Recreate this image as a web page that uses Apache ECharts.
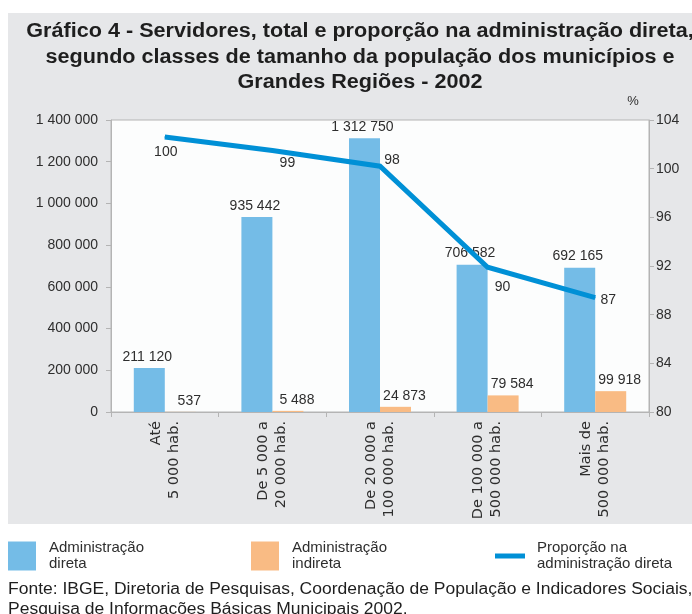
<!DOCTYPE html>
<html>
<head>
<meta charset="utf-8">
<script src="https://cdn.jsdelivr.net/npm/echarts@6/dist/echarts.min.js"></script>
<style>
  html, body { margin: 0; padding: 0; background: #ffffff; }
  #panel { position: absolute; left: 8px; top: 13px; width: 684px; height: 511px; background: #e6e7e9; }
  #chart { position: absolute; left: 0; top: 0; width: 692px; height: 614px; }
</style>
</head>
<body>
<div id="panel"></div>
<div id="chart"></div>
<script>
const categories = ['Até\n5 000 hab.', 'De 5 000 a\n20 000 hab.', 'De 20 000 a\n100 000 hab.', 'De 100 000 a\n500 000 hab.', 'Mais de\n500 000 hab.'];
const adminDireta = [211120, 935442, 1312750, 706582, 692165];
const adminIndireta = [537, 5488, 24873, 79584, 99918];
// line positions as drawn against the right axis, and the printed label values
const proporcaoPlotted = [102.6, 101.5, 100.2, 91.9, 89.4];
const proporcaoLabels = [100, 99, 98, 90, 87];
const leftTicks = { min: 0, max: 1400000, interval: 200000 };
const rightTicks = { min: 80, max: 104, interval: 4 };

const titleText = 'Gráfico 4 - Servidores, total e proporção na administração direta,\nsegundo classes de tamanho da população dos municípios e\nGrandes Regiões - 2002';
const sourceText = 'Fonte: IBGE, Diretoria de Pesquisas, Coordenação de População e Indicadores Sociais,\nPesquisa de Informações Básicas Municipais 2002.';
const seriesNames = ['Administração\ndireta', 'Administração\nindireta', 'Proporção na\nadministração direta'];

// styling: label nudges (pixels)
const lineLabelOffsets = [[1, 15], [15, 13], [12, -6], [15, 20], [13, 3]];

function fmt(n) { return String(n).replace(/\B(?=(\d{3})+(?!\d))/g, ' '); }

const C_BLUE = '#74bce7', C_ORANGE = '#f9bb84', C_LINE = '#0090d6', C_TEXT = '#2e2e2e', C_AXIS = '#b4b4b4';
const FONT = '"Liberation Sans", Arial, sans-serif';

const chart = echarts.init(document.getElementById('chart'), null, { renderer: 'canvas' });

function legendText(padLeft) {
  return { color: C_TEXT, fontSize: 15, fontFamily: FONT, lineHeight: 15.5, padding: [0, 0, 0, padLeft] };
}

chart.setOption({
  backgroundColor: 'transparent',
  animation: false,
  graphic: [
    { type: 'text', x: 360, y: 19, scaleX: 1.08, style: { text: titleText, font: 'bold 20px ' + FONT, fill: '#1e1e1e', textAlign: 'center', textVerticalAlign: 'top', lineHeight: 25.5 } },
    { type: 'text', x: 633, y: 101, style: { text: '%', font: '13px ' + FONT, fill: C_TEXT, textAlign: 'center', textVerticalAlign: 'middle' } },
    { type: 'text', x: 8, y: 580, scaleX: 1.093, style: { text: sourceText, font: '16px ' + FONT, fill: '#1e1e1e', textAlign: 'left', textVerticalAlign: 'top', lineHeight: 20 } }
  ],
  grid: { left: 111, right: 43, top: 120, bottom: 202, show: true, backgroundColor: '#fcfdfd', borderColor: C_AXIS, borderWidth: 1 },
  legend: [
    { left: 8, top: 540.5, padding: 0, itemGap: 0, selectedMode: false, itemWidth: 28, itemHeight: 29, data: [{ name: seriesNames[0], icon: 'rect' }], textStyle: legendText(8) },
    { left: 251, top: 540.5, padding: 0, itemGap: 0, selectedMode: false, itemWidth: 28, itemHeight: 29, data: [{ name: seriesNames[1], icon: 'rect' }], textStyle: legendText(8) },
    { left: 495, top: 540.5, padding: 0, itemGap: 0, selectedMode: false, itemWidth: 30, itemHeight: 5, data: [{ name: seriesNames[2], icon: 'rect' }], textStyle: legendText(7) }
  ],
  xAxis: {
    type: 'category',
    data: categories,
    axisLine: { lineStyle: { color: C_AXIS, width: 1 } },
    axisTick: { show: true, length: 5, inside: false, lineStyle: { color: C_AXIS } },
    axisLabel: { rotate: 90, margin: 9, padding: [10, 0, 0, 0], color: C_TEXT, fontSize: 14.5, fontFamily: '"DejaVu Sans", sans-serif', lineHeight: 18, interval: 0 }
  },
  yAxis: [
    {
      type: 'value', min: leftTicks.min, max: leftTicks.max, interval: leftTicks.interval, position: 'left',
      axisLine: { show: true, lineStyle: { color: C_AXIS } },
      axisTick: { show: true, length: 5, lineStyle: { color: C_AXIS } },
      splitLine: { show: false },
      axisLabel: { margin: 13, color: C_TEXT, fontSize: 14, fontFamily: FONT, formatter: v => fmt(v) }
    },
    {
      type: 'value', min: rightTicks.min, max: rightTicks.max, interval: rightTicks.interval, position: 'right',
      axisLine: { show: true, lineStyle: { color: C_AXIS } },
      axisTick: { show: true, length: 5, lineStyle: { color: C_AXIS } },
      splitLine: { show: false },
      axisLabel: { margin: 7, color: C_TEXT, fontSize: 14, fontFamily: FONT }
    }
  ],
  series: [
    {
      name: seriesNames[0], type: 'bar', data: adminDireta, barWidth: 31, barGap: '0%',
      itemStyle: { color: C_BLUE },
      label: { show: true, position: 'top', distance: 4, offset: [-2, 0], color: C_TEXT, fontSize: 14, fontFamily: FONT, formatter: p => fmt(p.value) }
    },
    {
      name: seriesNames[1], type: 'bar', data: adminIndireta, barWidth: 31, barGap: '0%',
      itemStyle: { color: C_ORANGE },
      label: { show: true, position: 'top', distance: 4, offset: [9, 0], color: C_TEXT, fontSize: 14, fontFamily: FONT, formatter: p => fmt(p.value) }
    },
    {
      name: seriesNames[2], type: 'line', yAxisIndex: 1,
      data: proporcaoPlotted.map((v, i) => ({ value: v, label: { offset: lineLabelOffsets[i] } })),
      symbol: 'circle', symbolSize: 1, showSymbol: true,
      itemStyle: { color: C_LINE },
      lineStyle: { color: C_LINE, width: 5, join: 'miter' },
      label: { show: true, position: 'inside', color: C_TEXT, fontSize: 14, fontFamily: FONT, formatter: p => String(proporcaoLabels[p.dataIndex]) },
      z: 5
    }
  ]
});
</script>
</body>
</html>
